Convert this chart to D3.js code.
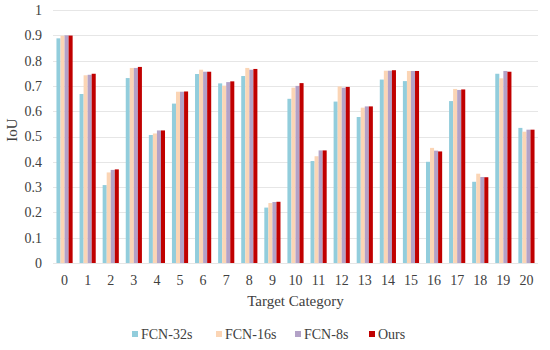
<!DOCTYPE html>
<html>
<head>
<meta charset="utf-8">
<script src="https://cdn.jsdelivr.net/npm/d3@7"></script>
<style>
  html, body { margin: 0; padding: 0; background: #fff; }
  svg { display: block; }
  svg text { font-family: 'Liberation Serif', 'DejaVu Serif', serif; fill: #404040; }
</style>
</head>
<body>
<div id="chart"></div>
<script>
const categories = d3.range(0, 21).map(String);
const seriesNames = ['FCN-32s', 'FCN-16s', 'FCN-8s', 'Ours'];
const fcn32 = [0.888, 0.668, 0.308, 0.731, 0.506, 0.630, 0.747, 0.710, 0.739, 0.219, 0.649, 0.403, 0.638, 0.577, 0.725, 0.719, 0.400, 0.640, 0.321, 0.748, 0.534];
const fcn16 = [0.898, 0.742, 0.358, 0.771, 0.512, 0.677, 0.764, 0.701, 0.771, 0.237, 0.693, 0.422, 0.698, 0.614, 0.760, 0.759, 0.455, 0.688, 0.353, 0.730, 0.519];
const fcn8  = [0.900, 0.744, 0.368, 0.771, 0.524, 0.677, 0.756, 0.715, 0.764, 0.241, 0.700, 0.445, 0.693, 0.619, 0.760, 0.759, 0.444, 0.684, 0.340, 0.759, 0.527];
const ours  = [0.899, 0.748, 0.370, 0.775, 0.524, 0.678, 0.756, 0.718, 0.767, 0.242, 0.711, 0.445, 0.696, 0.619, 0.762, 0.759, 0.441, 0.686, 0.339, 0.756, 0.527];
const yTicks = d3.range(0, 11).map(i => i / 10);
const colors = ['#92CDDC', '#FBD5B5', '#B3A2C7', '#C00000'];

const seriesValues = [fcn32, fcn16, fcn8, ours];
const rows = categories.map((c, i) => ({
  cat: c,
  vals: seriesNames.map((s, j) => ({ key: s, value: seriesValues[j][i] }))
}));

const totalW = 550, totalH = 350;
const margin = { top: 10, right: 12, bottom: 87, left: 53 };
const width = totalW - margin.left - margin.right;
const height = totalH - margin.top - margin.bottom;

const svg = d3.select('#chart')
  .append('svg')
  .attr('width', totalW)
  .attr('height', totalH);

const g = svg.append('g')
  .attr('transform', `translate(${margin.left},${margin.top})`);

const x0 = d3.scaleBand()
  .domain(categories)
  .range([0, width])
  .paddingInner(0.3)
  .paddingOuter(0.15);

const x1 = d3.scaleBand()
  .domain(seriesNames)
  .range([0, x0.bandwidth()]);

const y = d3.scaleLinear()
  .domain([0, 1])
  .range([height, 0]);

const color = d3.scaleOrdinal().domain(seriesNames).range(colors);

// gridlines
g.selectAll('.grid')
  .data(yTicks)
  .join('line')
  .attr('class', 'grid')
  .attr('x1', 0).attr('x2', width)
  .attr('y1', d => Math.round(y(d)) + 0.5)
  .attr('y2', d => Math.round(y(d)) + 0.5)
  .attr('stroke', '#e6e6e6')
  .attr('stroke-width', 1.2);

// bars
g.selectAll('.cat')
  .data(rows)
  .join('g')
  .attr('class', 'cat')
  .attr('transform', d => `translate(${x0(d.cat)},0)`)
  .selectAll('rect')
  .data(d => d.vals)
  .join('rect')
  .attr('x', d => x1(d.key))
  .attr('width', x1.bandwidth())
  .attr('y', d => y(d.value))
  .attr('height', d => y(0) - y(d.value))
  .attr('fill', d => color(d.key));

// y axis
const yAxis = g.append('g')
  .call(d3.axisLeft(y).tickValues(yTicks).tickFormat(d => d === 0 ? '0' : d === 1 ? '1' : d3.format('.1f')(d)).tickSize(0).tickPadding(11));
yAxis.select('.domain').remove();
yAxis.attr('font-family', null);
yAxis.selectAll('text').attr('font-size', 14).attr('fill', null);

// x axis
const xAxis = g.append('g')
  .attr('transform', `translate(0,${height})`)
  .call(d3.axisBottom(x0).tickSize(0).tickPadding(12));
xAxis.select('.domain').remove();
xAxis.attr('font-family', null);
xAxis.selectAll('text').attr('font-size', 14).attr('fill', null);

// axis titles
svg.append('text')
  .attr('x', margin.left + width / 2)
  .attr('y', 306)
  .attr('text-anchor', 'middle')
  .attr('font-size', 15)
  .text('Target Category');

svg.append('text')
  .attr('transform', 'translate(17,130) rotate(-90)')
  .attr('text-anchor', 'middle')
  .attr('font-size', 15)
  .text('IoU');

// legend
const legendX = [132, 216, 295, 369];
const legend = svg.append('g')
  .selectAll('g')
  .data(seriesNames)
  .join('g')
  .attr('transform', (d, i) => `translate(${legendX[i]},334)`);

legend.append('rect')
  .attr('x', 0).attr('y', -3)
  .attr('width', 6).attr('height', 6)
  .attr('fill', d => color(d));

legend.append('text')
  .attr('x', 9)
  .attr('y', 5)
  .attr('font-size', 14)
  .text(d => d);
</script>
</body>
</html>
